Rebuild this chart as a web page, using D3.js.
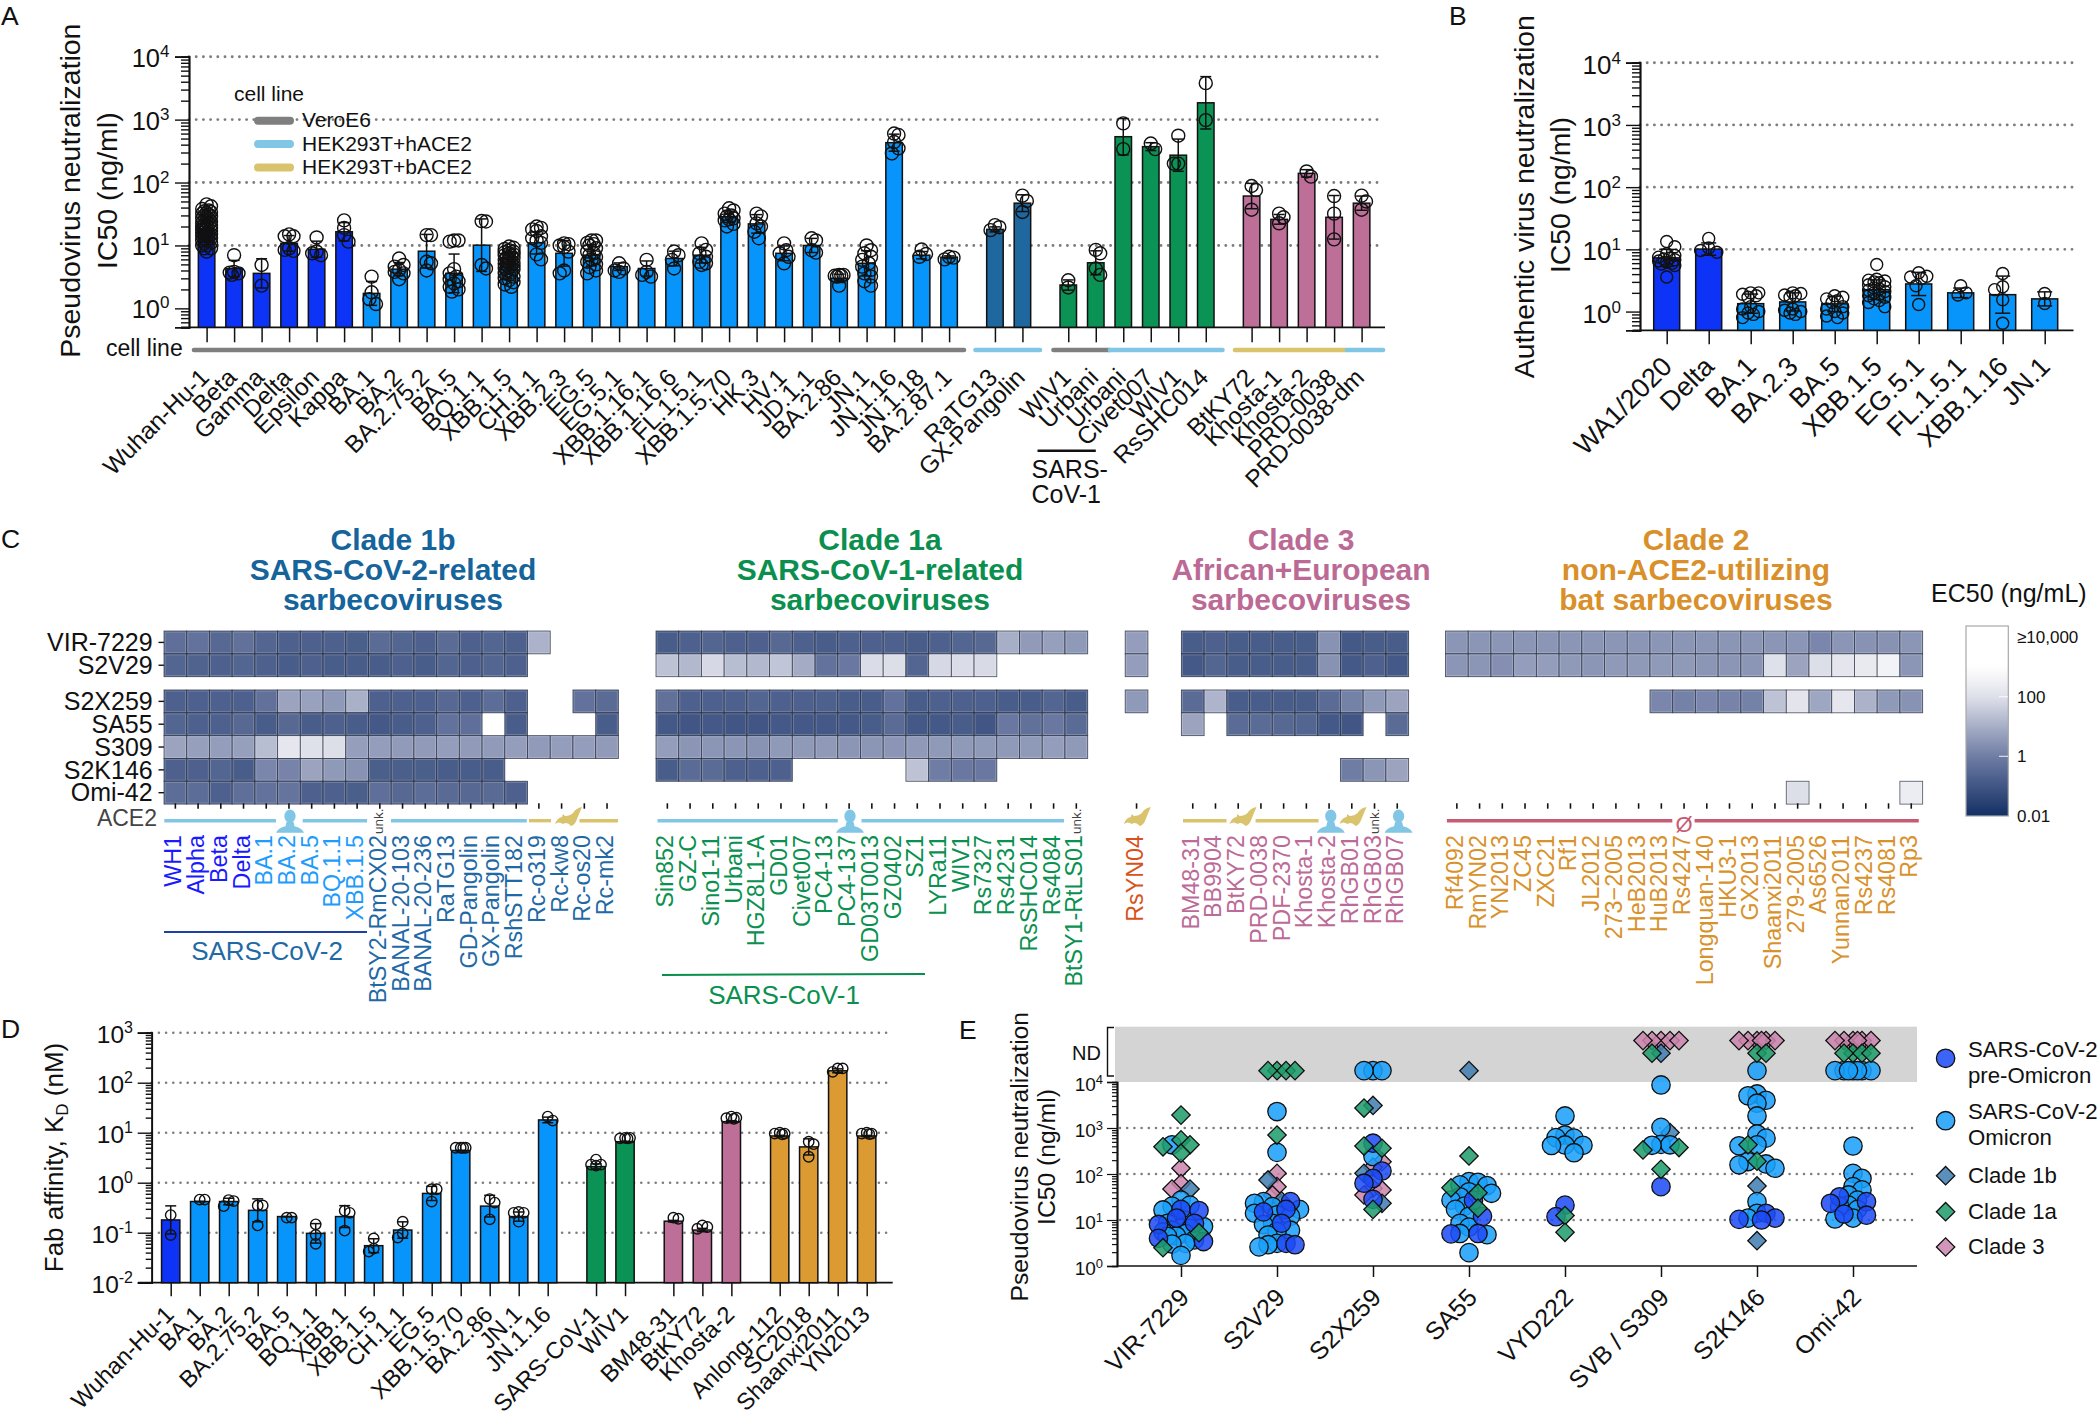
<!DOCTYPE html>
<html><head><meta charset="utf-8">
<script src="https://cdn.jsdelivr.net/npm/d3@7/dist/d3.min.js"></script>
<style>html,body{margin:0;padding:0;background:#fff}svg{display:block}text{font-family:"Liberation Sans",Arial,sans-serif}</style>
</head><body><svg id="fig" width="2100" height="1418"></svg>
<script>
// ---------- Panel A data ----------
const A_labels=["Wuhan-Hu-1","Beta","Gamma","Delta","Epsilon","Kappa","BA.1","BA.2","BA.2.75.2","BA.5","BQ.1.1","XBB.1.5","CH.1.1","XBB.2.3","EG.5","EG.5.1","XBB.1.16.1","XBB.1.16.6","FL.1.5.1","XBB.1.5.70","HK.3","HV.1","JD.1.1","BA.2.86","JN.1","JN.1.16","JN.1.18","BA.2.87.1","RaTG13","GX-Pangolin","WIV1","Urbani","Urbani","Civet007","WIV1","RsSHC014","BtKY72","Khosta-1","Khosta-2","PRD-0038","PRD-0038-dm"];
const A_values=[18,4.3,3.6,10.8,8.7,16.5,1.73,4.2,8.1,3.6,10.1,5.2,11,7.5,7,4.6,4.3,6.2,7,28.6,22,7.5,10,3,5.2,430,7,6.5,18,47,2.35,5.3,535,372,272,1850,61,26,140,28,47];
const A_kind=["pre","pre","pre","pre","pre","pre","omi","omi","omi","omi","omi","omi","omi","omi","omi","omi","omi","omi","omi","omi","omi","omi","omi","omi","omi","omi","omi","omi","c1b","c1b","c1a","c1a","c1a","c1a","c1a","c1a","c3","c3","c3","c3","c3"];
const A_groupSizes=[28,2,6,5];
const A_points=[
[45,42,38,36,35,34,33,32,31,30,29,28,27,26,25,24,24,23,22,21,21,20,20,19,19,18,18,17,17,16,16,15,15,14,14,13,13,12,12,11,11,10,10,9,9,8],
[7,3.8,3.7,3.6,3.4],[4.9,2.3],[15,14,14,9,8.5,8.2],[13.4,8,7.5,7],[25,19,14.6,11.5],[3.2,1.8,1.4,1.17],
[6.2,4.9,4.6,4.1,3.8,3.6,2.9],[14.6,14.6,5.5,5.2,4],[12,12,11.5,4.2,3.6,3.2,2.9,2.7,2.5,2.2,2,1.85],[24.4,24,4.9,4.3],
[9.6,9.2,8.8,8.4,8,7.8,7.5,7.2,7,6.8,6.5,6.3,6.1,5.9,5.7,5.5,5.3,5.2,5.1,5,4.9,4.7,4.5,4.4,4.2,4,3.8,3.6,3.4,3.2,3,2.8,2.6,2.4,2.2],
[20,19,18,17,14,13,12,11,7.2,6],[10.8,10.5,10,9.4,8,4,3.6],[12,12,11,10.5,10,9,8,7.5,7,6.5,6,5.5,5,4.5,4,3.6],[5.2,4.3,4,3.8],[5.9,3.8,3.4,3.2],[8,7,5.9,4.3],[10.8,8.5,7.5,6.6,5.5,5.2,4.9],
[39,36,32,30,29,27,26,25,22,20],[32,29,22.4,20,16.5,13],[10.8,8.4,7.5,6.6,5.2],[13,12,8.4,7.7],[3.4,3.4,3.3,3.3,3.2,2.3],[10,8.4,7.5,6.6,5.9,5.2,4.6,4.1,3.6,3.2,2.7,2.3],
[600,570,440,350,290],[8.6,7.3,6.6],[6.6,6.4,6],[21,19.5,17.5],[62,51,34],[2.8,2.15],[8.5,7.5,4.3,3.4],[870,340],[417,340],[555,200,200],[3800,980],[88,76,37],[32,28,22.5],[150,124],[61,32,12.5],[62,50,37]];
const A_cellSegments=[["gray",0,1],["blue",1,2],["gray",2,3],["blue",3,4],["yellow",4,5],["blue",5,6]];

// ---------- Panel B data ----------
const B_labels=["WA1/2020","Delta","BA.1","BA.2.3","BA.5","XBB.1.5","EG.5.1","FL.1.5.1","XBB.1.16","JN.1"];
const B_values=[7.3,10.1,1.34,1.43,1.33,2.25,2.78,2,1.87,1.6];
const B_kind=["pre","pre","omi","omi","omi","omi","omi","omi","omi","omi"];
const B_groupSizes=[10];
const B_points=[[13.4,11,8.5,8,7.5,7.2,7,6.8,6.5,6.2,6,5.8,5.5,3.6],[15,10.5,9.6,9],[2,2,1.9,1.8,1.7,1.2,1.1,1,.95,.9,.8],[2,1.95,1.85,1.8,1.7,1.1,1.05,1,.95,.9],[1.8,1.7,1.6,1.5,1.4,1.2,1.1,1,.95,.85,.8],[5.7,3.3,3.2,3.1,3,2.9,2.7,2.5,2.4,2.3,2.2,2.1,2,1.9,1.8,1.7,1.6,1.5,1.4,1.2],[4.2,3.7,3.6,3.4,2.6,1.3],[2.6,2,1.85],[4.1,2.5,2.25,1.55,.65],[1.95,1.35]];

// ---------- Panel C data ----------
const C_rows=["VIR-7229","S2V29","S2X259","SA55","S309","S2K146","Omi-42"];
const C1b_labels=["WH1","Alpha","Beta","Delta","BA.1","BA.2","BA.5","BQ.1.1","XBB.1.5","BtSY2-RmCX02","BANAL-20-103","BANAL-20-236","RaTG13","GD-Pangolin","GX-Pangolin","RshSTT182","Rc-o319","Rc-kw8","Rc-os20","Rc-mk2"];
const C1b_kinds=["pre","pre","pre","pre","omi","omi","omi","omi","omi","c1b","c1b","c1b","c1b","c1b","c1b","c1b","c1b","c1b","c1b","c1b"];
const C1b_cells=[
[.45,.55,.3,.5,.25,.2,.2,.2,.17,.35,.25,.2,.35,.2,.25,.2,12,null,null,null],
[.25,.22,.2,.25,.2,.15,.2,.15,.15,.15,.2,.15,.25,.2,.25,.2,null,null,null,null],
[.2,.2,.2,.2,.5,6,5.5,3.7,11,.2,.2,.2,.3,.2,.4,.2,null,null,.55,.35],
[.25,.2,.2,.3,.15,.3,.15,.2,.15,.12,.15,.2,.55,.45,null,.15,null,null,null,.15],
[6,5,4.5,5,20,160,100,90,4.8,4.5,4,4,4.5,4,4,4.5,4,4.5,4.5,4],
[.2,.2,.25,.15,1.6,1.4,6,3.7,2.8,.17,.17,.17,.15,.15,.15,null,null,null,null,null],
[.4,.4,.2,.45,.55,.6,.2,.2,.17,.45,.3,.4,.33,.3,.33,.2,null,null,null,null]];
const C1a_labels=["Sin852","GZ-C","Sino1-11","Urbani","HGZ8L1-A","GD01","Civet007","PC4-13","PC4-137","GD03T0013","GZ0402","SZ1","LYRa11","WIV1","Rs7327","Rs4231","RsSHC014","Rs4084","BtSY1-RtLS01"];
const C1a_cells=[
[.15,.2,.25,.2,.2,.3,.2,.15,.2,.2,.2,.15,.2,.25,.3,10,4,5,3.7],
[25,16,70,20,16,28,9,.55,.8,80,90,.25,70,80,75,null,null,null,null],
[.5,.2,.2,.2,.25,.2,.2,.2,.15,.15,.55,.15,.2,.2,.2,.15,.15,.25,.15],
[.12,.1,.12,.1,.1,.12,.12,.12,.12,.15,.35,.12,.12,.15,.1,.8,.5,.8,.35],
[4.5,3.2,3.2,3.2,2.8,3.7,3.7,3.7,3.2,3.2,3.2,3.7,3.7,3.7,3.7,3.7,3.7,4.5,3.7],
[.15,.35,.35,.2,.2,.2,null,null,null,null,null,25,1,.8,.8,null,null,null,null],
[null,null,null,null,null,null,null,null,null,null,null,null,null,null,null,null,null,null,null]];
const CYN_labels=["RsYN04"];
const CYN_cells=[[4.5],[4.5],[3.7],[null],[null],[null],[null]];
const C3_labels=["BM48-31","BB9904","BtKY72","PRD-0038","PDF-2370","Khosta-1","Khosta-2","RhGB01","RhGB03","RhGB07"];
const C3_cells=[
[.15,.2,.15,.15,.15,.15,2.8,.12,.15,.15],
[.12,.25,.15,.15,.15,.15,2.8,.12,.2,.12],
[.35,13,.15,.15,.15,.15,.35,1.3,3.7,6],
[6,null,.35,.35,.3,.25,.12,.1,null,.35],
[null,null,null,null,null,null,null,null,null,null],
[null,null,null,null,null,null,null,1,3.2,6],
[null,null,null,null,null,null,null,null,null,null]];
const C2_labels=["Rf4092","RmYN02","YN2013","ZC45","ZXC21","Rf1","JL2012","273\u22122005","HeB2013","HuB2013","Rs4247","Longquan-140","HKU3-1","GX2013","Shaanxi2011","279-2005","As6526","Yunnan2011","Rs4237","Rs4081","Rp3"];
const C2_blank=[null,null,null,null,null,null,null,null,null,null,null,null,null,null,null,null,null,null,null,null,null];
const C2_cells=[
[3.2,3.2,3.2,3.2,3.2,3.2,3.2,3.2,3.2,3.2,3.2,3.2,3.2,3.2,3.2,3.2,1.6,3.2,2.8,2.8,3.2],
[3.2,3.2,2.4,4.5,4.5,3.7,3.2,3.7,3.7,3.7,3.7,3.2,3.2,3.2,100,6,90,140,200,400,3.2],
[null,null,null,null,null,null,null,null,null,1.6,1.3,1.6,1.4,1.3,25,130,7,160,12,3.7,2.8],
C2_blank,C2_blank,C2_blank,
[null,null,null,null,null,null,null,null,null,null,null,null,null,null,null,90,null,null,null,null,250]];
const C_titles=[["Clade 1b","SARS-CoV-2-related","sarbecoviruses"],["Clade 1a","SARS-CoV-1-related","sarbecoviruses"],["Clade 3","African+European","sarbecoviruses"],["Clade 2","non-ACE2-utilizing","bat sarbecoviruses"]];
const C_legendTicks=[[1e4,"\u226510,000"],[100,"100"],[1,"1"],[.01,"0.01"]];

// ---------- Panel D data ----------
const D_labels=["Wuhan-Hu-1","BA.1","BA.2","BA.2.75.2","BA.5","BQ.1.1","XBB.1","XBB.1.5","CH.1.1","EG.5","XBB.1.5.70","BA.2.86","JN.1","JN.1.16","SARS-CoV-1","WIV1","BM48-31","BtKY72","Khosta-2","Anlong-112","SC2018","Shaanxi2011","YN2013"];
const D_values=[.18,.42,.42,.28,.21,.097,.21,.055,.113,.61,4.4,.34,.21,18,2.1,6.6,.17,.113,16.6,8.6,5.2,173,8.6];
const D_kind=["pre","omi","omi","omi","omi","omi","omi","omi","omi","omi","omi","omi","omi","omi","c1a","c1a","c3","c3","c3","c2","c2","c2","c2"];
const D_groupSizes=[14,2,3,4];
const D_points=[[.225,.09],[.46,.46],[.45,.43,.34],[.35,.35,.14],[.2,.2],[.147,.09,.06],[.275,.25,.11],[.077,.048,.042],[.166,.097,.08],[.74,.74,.42],[5,5,5,5],[.47,.4,.185],[.26,.25,.25,.166],[21,17.5],[2.9,2.3,2.3,2.2],[7.9,7.9,7.7,7.7],[.19,.2],[.13,.14,.12],[21,20,19.5,19],[10,9.6,9.6,9.3],[6.6,5.9,3.3],[193,193,165],[10,9.6,9.6,9.4]];

// ---------- Panel E data (ND rows plotted above 10^4) ----------
const E_labels=["VIR-7229","S2V29","S2X259","SA55","VYD222","SVB / S309","S2K146","Omi-42"];
const E_omi=[
[430,27,21,20,16.5,10,8.5,7.2,6.6,6.6,6,5.5,5.1,4.5,4.4,3.7,3.1,3,1.7],
[2270,295,25,23,19.5,17,14,13,12,8.5,8,6,5.6,4.7,3.1,2.9,2.6],
[17600,17600,17600,240],
[68,66,58,56,41,38,32,27,20,17,12,8.5,7,5.1,4.8,1.95],
[1820,705,617,600,427,420,415,290],
[8600,1030,440,430,420],
[17600,5480,5000,4000,3450,1820,740,600,430,410,186,165,158,133,25,14,11],
[17600,17600,17600,17600,17600,17600,17600,405,103,80,53,45,35,27,21,20,17,11,10.5]];
const E_pre=[[17,16,11,8.5,8,4,3.4],[25,17,15,8.5,3.1,2.9],[466,116,80,63,28],[27,12,5.1,5],[21,11.8],[53],[14,11,10.3,10],[32,25,23,13.5,12.7]];
const E_c1b=[[47],[74,26],[3080,103,23],[17600],[],[42000,795],[55,3.55],[]];
const E_c1a=[[1900,550,430,390,282,5.3,2.5],[17600,17600,17600,17600,700],[2700,405,362,17],[246,50,39,18],[12.5,5.4],[42000,375,332,126],[42000,42000,430,190],[42000,42000,42000,42000]];
const E_c3=[[133,62,47],[103,53,35],[185,140,49,45,35],[],[],[79000,79000,79000,79000,79000],[79000,79000,79000,79000,79000,79000],[79000,79000,79000,79000,79000,79000]];
const E_legend=[["circle","pre",["SARS-CoV-2","pre-Omicron"]],["circle","omi",["SARS-CoV-2","Omicron"]],["diamond","c1b",["Clade 1b"]],["diamond","c1a",["Clade 1a"]],["diamond","c3",["Clade 3"]]];

// ---------- Shared palette ----------
const barColor={pre:"#0d33f7",omi:"#0795fb",c1b:"#1f689f",c1a:"#0b9255",c3:"#bd6f98",c2:"#dc9a33"};
const labelColor={pre:"#1a1aff",omi:"#1e9cfb",c1b:"#1f6aa6",c1a:"#0a904f",yn:"#d8521d",c3:"#bc6a97",c2:"#d8922c"};
const dotColor={pre:"#1c4af6",omi:"#19a0fa",c1b:"#3f7eb0",c1a:"#1e9c6b",c3:"#cb85ac"};
const strip={gray:"#7f7f7f",blue:"#82c6e6",yellow:"#d9c36c",red:"#c75b73"};

const svg=d3.select("#fig");
svg.append("rect").attr("width",2100).attr("height",1418).attr("fill","#fff");

function label(g,x,y,str,o={}){
  const t=g.append("text").attr("x",x).attr("y",y).text(str)
   .attr("font-size",o.size||24).attr("text-anchor",o.anchor||"start").attr("fill",o.fill||"#111");
  if(o.weight) t.attr("font-weight",o.weight);
  if(o.rot!==undefined) t.attr("transform",`rotate(${o.rot} ${x} ${y})`);
  return t;
}
function powerLabel(g,x,y,exp,size,sup,rise){
  const t=g.append("text").attr("x",x).attr("y",y).attr("text-anchor","end").attr("font-size",size).attr("fill","#111");
  t.append("tspan").text("10");
  t.append("tspan").attr("font-size",sup).attr("dy",-rise).text(exp);
}
// log axis with major and minor ticks drawn by d3.axisLeft
function logAxis(g,y,ax,o){
  const [lo,hi]=o.ticksRange, majors=[],minors=[];
  for(let e=lo;e<=hi;e++){majors.push(Math.pow(10,e));
    if(e<hi) for(let m=2;m<10;m++) minors.push(m*Math.pow(10,e));}
  if(o.bottomMinors) o.bottomMinors.forEach(v=>minors.push(v));
  const ga=g.append("g").attr("transform",`translate(${ax},0)`);
  ga.call(d3.axisLeft(y).tickValues(minors).tickSize(o.minor).tickFormat(""));
  const gb=g.append("g").attr("transform",`translate(${ax},0)`);
  gb.call(d3.axisLeft(y).tickValues(majors).tickSize(o.major).tickFormat(""));
  [ga,gb].forEach(a=>{a.selectAll("line").attr("stroke","#111").attr("stroke-width",o.sw||1.4);
    a.selectAll("path").attr("stroke","#111").attr("stroke-width",o.dw||1.7);});
  for(let e=lo;e<=hi;e++) powerLabel(g,o.labelRight,y(Math.pow(10,e))+o.baseOff,String(e),o.size,o.sup,o.rise);
}
function grid(g,y,vals,x1,x2,w){
  g.selectAll(null).data(vals).join("line").attr("x1",x1).attr("x2",x2)
   .attr("y1",d=>y(d)).attr("y2",d=>y(d)).attr("stroke","#7d7d7d").attr("stroke-width",w||2.9)
   .attr("stroke-linecap","round").attr("stroke-dasharray","0 7.2");
}
// spreads points horizontally so that they stay side by side, nearest to the centre first
function swarm(vals,py,sep,step,maxOff){
  const order=vals.map((v,i)=>i).sort((a,b)=>vals[b]-vals[a]);
  const placed=[],off=new Array(vals.length).fill(0);
  order.forEach((idx,n)=>{
    const yy=py(idx),cands=[0];
    const side=n%2?1:-1;
    for(let k=1;k*step<=maxOff;k++) cands.push(side*k*step,-side*k*step);
    let best=0,score=-1;
    for(const c of cands){
      let m=Infinity; placed.forEach(p=>{m=Math.min(m,Math.hypot(p[0]-c,p[1]-yy));});
      if(m>=sep){best=c;score=m;break;}
      if(m>score){score=m;best=c;}
    }
    placed.push([best,yy]); off[idx]=best;
  });
  return off;
}
function groupPositions(sizes){
  const pos=[];let i=0;
  sizes.forEach((n,g)=>{for(let k=0;k<n;k++){pos.push(i+g*2/3);i++;}});
  return pos;
}
function barPanel(g,o){
  const pos=groupPositions(o.groups);
  const x=d3.scaleLinear().domain([0,1]).range([o.x0,o.x0+o.step]);
  const y=o.y;
  grid(g,y,o.gridVals,o.axisX,o.gridEnd,o.gridW);
  const base=y.range()[0];
  const xax=g.append("g").attr("transform",`translate(0,${base})`)
    .call(d3.axisBottom(x).tickValues(pos).tickSize(o.tick).tickFormat(""));
  xax.select("path").remove();
  xax.selectAll("line").attr("stroke","#111").attr("stroke-width",1.5);
  g.append("line").attr("x1",o.baseFrom).attr("x2",o.baseTo).attr("y1",base).attr("y2",base).attr("stroke","#111").attr("stroke-width",1.7);
  g.selectAll(null).data(o.values).join("rect")
    .attr("x",(d,i)=>x(pos[i])-o.barW/2).attr("width",o.barW)
    .attr("y",d=>y(d)).attr("height",d=>base-y(d))
    .attr("fill",(d,i)=>barColor[o.kind[i]]).attr("stroke","#111").attr("stroke-width",1.5);
  o.values.forEach((v,i)=>{
    const pts=o.points[i],cx=x(pos[i]);
    const logs=pts.map(Math.log10);
    const sd=d3.deviation(logs)||0;
    const hiV=v*Math.pow(10,sd),loV=v/Math.pow(10,sd);
    const yh=Math.min(y(hiV),base),yl=Math.min(y(loV),base);
    g.append("line").attr("x1",cx).attr("x2",cx).attr("y1",yh).attr("y2",yl).attr("stroke","#111").attr("stroke-width",1.5);
    [yh,yl].forEach(t=>g.append("line").attr("x1",cx-o.cap).attr("x2",cx+o.cap).attr("y1",t).attr("y2",t).attr("stroke","#111").attr("stroke-width",1.5));
    const offs=swarm(pts,k=>y(pts[k]),o.sep,o.swStep,o.swMax);
    g.selectAll(null).data(pts).join("circle").attr("cx",(d,k)=>cx+offs[k]).attr("cy",d=>y(d)).attr("r",o.r)
      .attr("fill","none").attr("stroke","#111").attr("stroke-width",1.4);
  });
  o.labels.forEach((s,i)=>{
    label(g,x(pos[i])+o.lx,o.ly,s,{size:o.lsize,anchor:"end",rot:-45});
  });
  return {x,pos};
}

// ================= Panel A =================
const gA=svg.append("g");
label(gA,1,24.5,"A",{size:26.5});
const yA=d3.scaleLog().domain([.5,1e4]).range([327.3,56.7]);
barPanel(gA,{x0:206.6,step:27.5,y:yA,values:A_values,points:A_points,kind:A_kind,groups:A_groupSizes,labels:A_labels,
  gridVals:[10,100,1000,1e4],axisX:189,gridEnd:1381,baseFrom:181,baseTo:1385,tick:15,barW:16.5,cap:5.5,r:6.5,sep:7,swStep:2.2,swMax:4.5,lx:4,ly:379,lsize:24.4});
logAxis(gA,yA,189,{ticksRange:[0,4],bottomMinors:[.5,.6,.7,.8,.9],minor:8,major:14,labelRight:169.5,baseOff:10,size:25.5,sup:17,rise:10});
label(gA,80.3,190.7,"Pseudovirus neutralization",{size:28.5,anchor:"middle",rot:-90});
label(gA,117,190.7,"IC50 (ng/ml)",{size:28.5,anchor:"middle",rot:-90});
label(gA,182.7,356,"cell line",{size:23,anchor:"end"});
const cellSegX=[[194,964],[975.5,1040],[1053.5,1110],[1110,1222.5],[1235,1347],[1347,1383]];
A_cellSegments.forEach(([c,a])=>{
  gA.append("line").attr("x1",cellSegX[a][0]).attr("x2",cellSegX[a][1]).attr("y1",350).attr("y2",350)
    .attr("stroke",strip[c]).attr("stroke-width",4.6).attr("stroke-linecap","round");
});
label(gA,234,101,"cell line",{size:21});
[["gray","VeroE6"],["blue","HEK293T+hACE2"],["yellow","HEK293T+bACE2"]].forEach(([c,s],i)=>{
  const yy=120.7+i*23.4;
  gA.append("line").attr("x1",258).attr("x2",290).attr("y1",yy).attr("y2",yy).attr("stroke",strip[c]).attr("stroke-width",8).attr("stroke-linecap","round");
  label(gA,302,yy+6.6,s,{size:21});
});
gA.append("line").attr("x1",1037.5).attr("x2",1095.8).attr("y1",450.7).attr("y2",450.7).attr("stroke","#111").attr("stroke-width",2.6);
label(gA,1031.5,478,"SARS-",{size:25});
label(gA,1031.5,503.3,"CoV-1",{size:25});

// ================= Panel B =================
const gB=svg.append("g");
label(gB,1449,24.5,"B",{size:26.5});
const yB=d3.scaleLog().domain([.5,1e4]).range([330.3,62.7]);
barPanel(gB,{x0:1666.7,step:42,y:yB,values:B_values,points:B_points,kind:B_kind,groups:B_groupSizes,labels:B_labels,
  gridVals:[10,100,1000,1e4],axisX:1640,gridEnd:2074,baseFrom:1632.5,baseTo:2073.5,tick:14,barW:26,cap:7.5,r:6,sep:8,swStep:2.7,swMax:8.2,lx:7,ly:368,lsize:27});
logAxis(gB,yB,1640,{ticksRange:[0,4],bottomMinors:[.5,.6,.7,.8,.9],minor:8,major:14,labelRight:1621,baseOff:11,size:26,sup:17,rise:10});
label(gB,1533.6,196.7,"Authentic virus neutralization",{size:28.4,anchor:"middle",rot:-90});
label(gB,1569.6,195,"IC50 (ng/ml)",{size:28.4,anchor:"middle",rot:-90});

// ================= Panel C =================
const gC=svg.append("g");
label(gC,1,548,"C",{size:26.5});
const cellH=22.83,cellW=22.72,rowGap=13.3,rowTop=631;
const rowY=d3.scaleLinear().domain([0,1]).range([rowTop,rowTop+cellH]);
const rowPos=i=>rowY(i)+(i>=2?rowGap:0);
const heat=d3.scaleLinear().domain([-2,0,2,3]).range(["#123064","#6f7ca4","#dfe1ea","#ffffff"]).clamp(true);
C_rows.forEach((s,i)=>{
  label(gC,152.7,rowPos(i)+cellH/2+8.8,s,{size:25,anchor:"end"});
  gC.append("line").attr("x1",158.5).attr("x2",164).attr("y1",rowPos(i)+cellH/2).attr("y2",rowPos(i)+cellH/2).attr("stroke","#111").attr("stroke-width",1.4);
});
function heatBlock(x0,cells,labels,kinds){
  const x=d3.scaleLinear().domain([0,1]).range([x0,x0+cellW]);
  cells.forEach((row,r)=>row.forEach((v,c)=>{
    if(v===null) return;
    const col=heat(Math.log10(v));
    gC.append("rect").attr("x",x(c)).attr("y",rowPos(r)).attr("width",cellW).attr("height",cellH).attr("fill",col)
      .attr("stroke","#2a3040").attr("stroke-opacity",.75).attr("stroke-width",.9);
    gC.append("rect").attr("x",x(c)+1.1).attr("y",rowPos(r)+1.1).attr("width",cellW-2.2).attr("height",cellH-2.2).attr("fill","none")
      .attr("stroke","#fff").attr("stroke-opacity",.22).attr("stroke-width",.9);
  }));
  labels.forEach((s,c)=>{
    const cx=x(c)+cellW/2;
    gC.append("line").attr("x1",cx).attr("x2",cx).attr("y1",803.3).attr("y2",808.7).attr("stroke","#111").attr("stroke-width",1.6);
    label(gC,cx+6,835,s,{size:23.3,anchor:"end",rot:-90,fill:labelColor[kinds[c]||kinds[0]]});
  });
}
heatBlock(164,C1b_cells,C1b_labels,C1b_kinds);
heatBlock(656,C1a_cells,C1a_labels,["c1a"]);
heatBlock(1125.2,CYN_cells,CYN_labels,["yn"]);
heatBlock(1181.4,C3_cells,C3_labels,["c3"]);
heatBlock(1445.5,C2_cells,C2_labels,["c2"]);
// titles
[[393,"#15649b"],[880,"#0a8f4f"],[1301,"#bb6a95"],[1696,"#d98f2a"]].forEach(([cx,col],i)=>{
  C_titles[i].forEach((s,l)=>label(gC,cx,550.3+l*30,s,{size:30,anchor:"middle",fill:col,weight:"bold"}));
});
// ACE2 strip
label(gC,157,825.5,"ACE2",{size:23,anchor:"end",fill:"#444"});
[["blue",164.3,276],["blue",302.7,367],["blue",391,526.8],["yellow",529,551],["yellow",579.5,618],
 ["blue",657.5,837.8],["blue",861.5,1064],["yellow",1183,1226.5],["yellow",1255.6,1318.6],["red",1446.9,1672.3],["red",1694.6,1918.8]]
 .forEach(([c,a,b])=>gC.append("line").attr("x1",a).attr("x2",b).attr("y1",820.7).attr("y2",820.7).attr("stroke",strip[c]).attr("stroke-width",3.4));
function person(cx){
  const g=gC.append("g").attr("transform",`translate(${cx},832.7)`).attr("fill",strip.blue);
  g.append("ellipse").attr("cx",0).attr("cy",-16.5).attr("rx",5.6).attr("ry",6.6);
  g.append("path").attr("d","M-14,0 Q-12,-5 -4.5,-6.5 L-3.5,-11 L3.5,-11 L4.5,-6.5 Q12,-5 14,0 Z");
}
function bat(cx){
  gC.append("path").attr("transform",`translate(${cx},817)`).attr("fill",strip.yellow)
   .attr("d","M-13,7 Q-11,1 -6,0 L-5,-3 L-3,-1 Q2,-1 5,-4 Q8,-9 14,-10 Q11,-3 9,2 Q7,8 3,9 Q-1,4 -5,7 Q-9,4 -13,7Z");
}
[290,850,1330.8,1398.6].forEach(person);
[568,1136.8,1242.5,1352.5].forEach(bat);
[378.6,1076,1374].forEach(x=>label(gC,x+4.5,808.5,"unk.",{size:13.5,anchor:"end",rot:-90,fill:"#444"}));
label(gC,1684,832,"\u00d8",{size:22,anchor:"middle",fill:strip.red});
// virus brackets
gC.append("line").attr("x1",164).attr("x2",367).attr("y1",932).attr("y2",932).attr("stroke","#1d3fa8").attr("stroke-width",2);
label(gC,267,960,"SARS-CoV-2",{size:26,anchor:"middle",fill:labelColor.c1b});
gC.append("line").attr("x1",662).attr("x2",925).attr("y1",975).attr("y2",974).attr("stroke","#0a8f4f").attr("stroke-width",2);
label(gC,784,1004,"SARS-CoV-1",{size:26,anchor:"middle",fill:labelColor.c1a});
// colour legend
label(gC,1931,601.7,"EC50 (ng/mL)",{size:25});
const yLeg=d3.scaleLog().domain([.01,1e4]).range([816,637]);
const defs=svg.append("defs").append("linearGradient").attr("id","ec50").attr("x1",0).attr("x2",0).attr("y1",0).attr("y2",1);
d3.range(0,21).forEach(i=>{
  const yy=626+i/20*190;
  const v=yLeg.invert(Math.min(yy,816));
  defs.append("stop").attr("offset",i/20).attr("stop-color",heat(Math.log10(v)));
});
gC.append("rect").attr("x",1966).attr("y",626).attr("width",42.3).attr("height",190).attr("fill","url(#ec50)").attr("stroke","#a8a8a8").attr("stroke-width",1.2);
C_legendTicks.forEach(([v,s])=>{
  label(gC,2017,yLeg(v)+6,s,{size:17});
});
[100,1].forEach(v=>gC.append("line").attr("x1",1999).attr("x2",2008).attr("y1",yLeg(v)).attr("y2",yLeg(v)).attr("stroke","#fff").attr("stroke-opacity",.75).attr("stroke-width",1.2));

// ================= Panel D =================
const gD=svg.append("g");
label(gD,1,1038,"D",{size:26.5});
const yD=d3.scaleLog().domain([.01,1000]).range([1282.7,1032.7]);
barPanel(gD,{x0:170.7,step:29,y:yD,values:D_values,points:D_points,kind:D_kind,groups:D_groupSizes,labels:D_labels,
  gridVals:[.1,1,10,100,1000],axisX:151.7,gridEnd:889,baseFrom:138,baseTo:892.7,tick:13.5,barW:18.3,cap:5.5,r:5.2,sep:8,swStep:2.5,swMax:5,lx:4.5,ly:1316,lsize:23.6,gridW:2.6});
logAxis(gD,yD,151.7,{ticksRange:[-2,3],minor:6,major:14,labelRight:133,baseOff:10.5,size:24.5,sup:16,rise:10});
{
  const t=gD.append("text").attr("transform","rotate(-90 63 1157.5)").attr("x",63).attr("y",1157.5).attr("text-anchor","middle").attr("font-size",26).attr("fill","#111");
  t.append("tspan").text("Fab affinity, K");
  t.append("tspan").attr("font-size",17).attr("dy",5).text("D");
  t.append("tspan").attr("dy",-5).text(" (nM)");
}

// ================= Panel E =================
const gE=svg.append("g");
label(gE,959,1039,"E",{size:26.5});
const yE=d3.scaleLog().domain([1,Math.pow(10,5.2)]).range([1266,1026.7]);
gE.append("rect").attr("x",1115).attr("y",1026.7).attr("width",802).attr("height",55.3).attr("fill","#d4d4d4");
grid(gE,yE,[10,100,1000],1120,1917,2.6);
const xE=d3.scalePoint().domain(E_labels).range([1181,1853]);
const xax=gE.append("g").attr("transform","translate(0,1266)").call(d3.axisBottom(xE).tickSize(11).tickFormat(""));
xax.select("path").remove();
xax.selectAll("line").attr("stroke","#111").attr("stroke-width",1.5);
gE.append("line").attr("x1",1117).attr("x2",1917).attr("y1",1266).attr("y2",1266).attr("stroke","#111").attr("stroke-width",1.7);
const yE0=d3.scaleLog().domain([1,1e4]).range([1266,1082]);
logAxis(gE,yE0,1117,{ticksRange:[0,4],minor:5,major:10,labelRight:1103,baseOff:9,size:19,sup:13,rise:7,sw:1.2});
// ND bracket
gE.append("path").attr("d","M1114,1027.5 H1107.5 V1076 H1114").attr("fill","none").attr("stroke","#111").attr("stroke-width",1.4);
label(gE,1101,1060,"ND",{size:20,anchor:"end"});
const kinds=[["c3",E_c3,"diamond"],["c1b",E_c1b,"diamond"],["omi",E_omi,"circle"],["pre",E_pre,"circle"],["c1a",E_c1a,"diamond"]];
function marker(g,shape,kind,cx,cy,size){
  if(shape==="circle") g.append("circle").attr("cx",cx).attr("cy",cy).attr("r",size)
    .attr("fill",dotColor[kind]).attr("fill-opacity",.86).attr("stroke","#111").attr("stroke-width",1.3);
  else g.append("path").attr("d",d3.symbol().type(d3.symbolSquare).size(2*size*size)()).attr("transform",`translate(${cx},${cy}) rotate(45)`)
    .attr("fill",dotColor[kind]).attr("fill-opacity",.86).attr("stroke","#111").attr("stroke-width",1.3);
}
E_labels.forEach((s,c)=>{
  const all=[];
  kinds.forEach(([k,arr,shape])=>arr[c].forEach(v=>all.push({k,v,shape})));
  const offs=swarm(all.map(d=>d.v),i=>yE(all[i].v),9,4.5,23);
  all.forEach((d,i)=>{d.off=offs[i];});
  all.forEach(d=>marker(gE,d.shape,d.k,xE(s)+d.off,yE(d.v),9.2));
  label(gE,xE(s)+9.5,1299,s,{size:25,anchor:"end",rot:-45});
});
label(gE,1028,1156.7,"Pseudovirus neutralization",{size:24.7,anchor:"middle",rot:-90});
label(gE,1055,1157,"IC50 (ng/ml)",{size:24.7,anchor:"middle",rot:-90});
const legY=[1058.3,1120.7,1175.7,1211.7,1247];
E_legend.forEach(([shape,k,lines],i)=>{
  marker(gE,shape,k,1945.6,legY[i],9.2);
  lines.forEach((l,j)=>label(gE,1968,(lines.length===2?legY[i]-1.6:legY[i]+7.3)+j*26,l,{size:22.2}));
});
</script></body></html>
